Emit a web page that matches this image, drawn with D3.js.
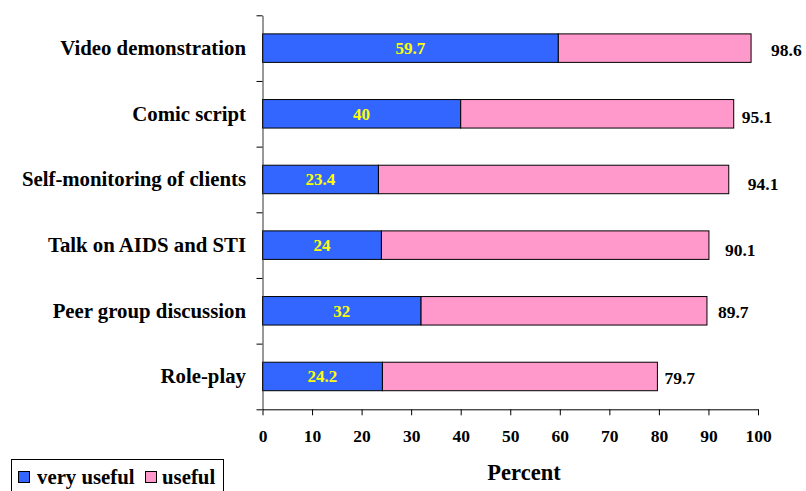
<!DOCTYPE html>
<html>
<head>
<meta charset="utf-8">
<script src="https://cdn.jsdelivr.net/npm/d3@7"></script>
<style>
  html, body { margin: 0; padding: 0; background: #fff; }
  svg { display: block; }
</style>
</head>
<body>
<svg id="chart" width="806" height="491"></svg>
<script>
// Methods for teaching, rated by participants (percent)
const categories = [
  "Video demonstration",
  "Comic script",
  "Self-monitoring of clients",
  "Talk on AIDS and STI",
  "Peer group discussion",
  "Role-play"
];
const veryUseful = [59.7, 40, 23.4, 24, 32, 24.2];        // blue segment
const totalUseful = [98.6, 95.1, 94.1, 90.1, 89.7, 79.7]; // end of the pink segment
const xTicks = [0, 10, 20, 30, 40, 50, 60, 70, 80, 90, 100];
const seriesNames = ["very useful", "useful"];

// Small per-row nudges for the total labels (layout only)
const totalLabelDx = [20, 8, 19, 16, 11, 7];
const totalLabelDy = [2, 3, 5, 5, 1, 2];

const FONT = "'Liberation Serif', 'Times New Roman', serif";
const colors = { very: "#3366FF", useful: "#FF99CC", inner: "#FFFF00" };

const svg = d3.select("#chart")
  .attr("font-family", FONT)
  .attr("font-weight", "bold");
const plot = { left: 262.5, right: 758, top: 15.3, bottom: 409.3 };

const x = d3.scaleLinear().domain([0, 100]).range([plot.left, plot.right]);
const y = d3.scaleBand()
  .domain(categories)
  .range([plot.top, plot.bottom])
  .paddingInner(0.566)
  .paddingOuter(0.283);
// boundaries between rows, used for the left-axis tick marks
const yEdge = d3.scaleLinear().domain([0, categories.length]).range([plot.top, plot.bottom]);

const rows = categories.map((c, i) => ({
  cat: c,
  segs: [
    { key: "very", x0: 0, x1: veryUseful[i] },
    { key: "useful", x0: veryUseful[i], x1: totalUseful[i] }
  ],
  very: veryUseful[i],
  total: totalUseful[i],
  i
}));

const g = svg.append("g");

// stacked bars
const rowG = g.selectAll("g.row").data(rows).join("g").attr("class", "row");
rowG.selectAll("rect")
  .data(d => d.segs.map(s => ({ ...s, cat: d.cat })))
  .join("rect")
  .attr("x", s => x(s.x0))
  .attr("y", s => y(s.cat))
  .attr("width", s => x(s.x1) - x(s.x0))
  .attr("height", y.bandwidth())
  .attr("fill", s => colors[s.key])
  .attr("stroke", "#000")
  .attr("stroke-width", 1);

// value labels inside the blue segment
rowG.append("text")
  .attr("x", d => (x(0) + x(d.very)) / 2)
  .attr("y", d => y(d.cat) + y.bandwidth() / 2)
  .attr("dy", "0.34em")
  .attr("text-anchor", "middle")
  .attr("font-family", FONT)
  .attr("font-weight", "bold")
  .attr("font-size", 17)
  .attr("fill", colors.inner)
  .text(d => d.very);

// total labels past the bar end
rowG.append("text")
  .attr("x", d => x(d.total) + totalLabelDx[d.i])
  .attr("y", d => y(d.cat) + y.bandwidth() / 2 + totalLabelDy[d.i])
  .attr("dy", "0.34em")
  .attr("text-anchor", "start")
  .attr("font-family", FONT)
  .attr("font-weight", "bold")
  .attr("font-size", 17.5)
  .attr("fill", "#000")
  .text(d => d.total);

// left axis: line plus ticks at row boundaries
const yAxis = d3.axisLeft(yEdge)
  .tickValues(d3.range(categories.length + 1))
  .tickSize(6)
  .tickSizeOuter(0)
  .tickFormat("");
const yAxisG = g.append("g").attr("transform", `translate(${plot.left},0)`).call(yAxis);
yAxisG.select(".domain").attr("stroke", "#333");
yAxisG.selectAll(".tick line").attr("stroke", "#000");

// category labels
g.selectAll("text.cat").data(categories).join("text")
  .attr("class", "cat")
  .attr("x", 246)
  .attr("y", c => y(c) + y.bandwidth() / 2)
  .attr("dy", "0.33em")
  .attr("text-anchor", "end")
  .attr("font-family", FONT)
  .attr("font-weight", "bold")
  .attr("font-size", 20.8)
  .attr("fill", "#000")
  .text(c => c);

// bottom axis
const xAxis = d3.axisBottom(x).tickValues(xTicks).tickSize(6).tickSizeOuter(0).tickPadding(14);
const xAxisG = g.append("g").attr("transform", `translate(0,${plot.bottom})`).call(xAxis)
  .attr("font-family", FONT)
  .attr("font-weight", "bold")
  .attr("font-size", 17.5);
xAxisG.select(".domain").attr("stroke", "#000");
xAxisG.selectAll(".tick line").attr("stroke", "#000");
xAxisG.selectAll(".tick text")
  .attr("font-family", FONT)
  .attr("font-weight", "bold")
  .attr("font-size", 17.5)
  .attr("fill", "#000");

// axis title
g.append("text")
  .attr("x", 524)
  .attr("y", 480)
  .attr("text-anchor", "middle")
  .attr("font-family", FONT)
  .attr("font-weight", "bold")
  .attr("font-size", 22.5)
  .attr("fill", "#000")
  .text("Percent");

// legend
const legend = svg.append("g");
legend.append("rect")
  .attr("x", 11.5).attr("y", 459.5)
  .attr("width", 212).attr("height", 40)
  .attr("fill", "#fff").attr("stroke", "#000").attr("stroke-width", 1);
const legendItems = [
  { name: seriesNames[0], color: colors.very, sx: 18, tx: 37 },
  { name: seriesNames[1], color: colors.useful, sx: 145, tx: 162 }
];
const li = legend.selectAll("g.item").data(legendItems).join("g").attr("class", "item");
li.append("rect")
  .attr("x", d => d.sx + 0.5).attr("y", 471.5)
  .attr("width", 11).attr("height", 11)
  .attr("fill", d => d.color).attr("stroke", "#000");
li.append("text")
  .attr("x", d => d.tx).attr("y", 484)
  .attr("font-family", FONT)
  .attr("font-weight", "bold")
  .attr("font-size", 20.8)
  .attr("fill", "#000")
  .text(d => d.name);
</script>
</body>
</html>
